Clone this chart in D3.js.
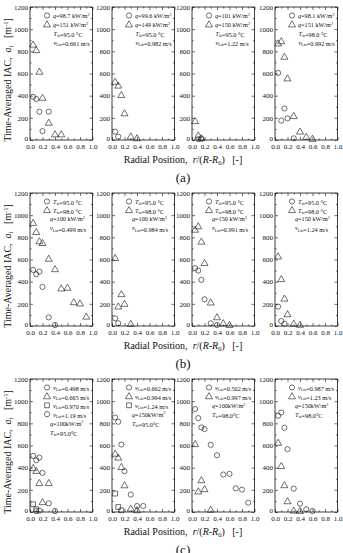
<!DOCTYPE html>
<html><head><meta charset="utf-8">
<script src="https://cdn.jsdelivr.net/npm/d3@7"></script>
<style>
body{margin:0;background:#fff}
svg{display:block}
text{font-family:"Liberation Serif","Times New Roman",serif;fill:#111}
</style>
</head><body>
<svg id="chart" width="343" height="553"></svg>
<script>
// ---------- data ----------
const radialPositions = [0.05,0.1,0.15,0.2,0.3,0.4,0.5,0.6,0.7,0.8,0.9];
const xTickValues = [0,0.2,0.4,0.6,0.8,1.0];
const xMinorValues = [0.1,0.3,0.5,0.7,0.9];
const yTickValues = [0,200,400,600,800,1000,1200];
const yMinorValues = [100,300,500,700,900,1100];
const rowLabels = ["(a)","(b)","(c)"];

// row (a)
const a1_q98_7 = [390,370,255,80,255];
const a1_q151  = [860,810,615,380,155,50,50];
const a2_q99_6 = [75,30];
const a2_q149  = [525,490,405,240,30,15];
const a3_q101  = [null,8,12];
const a3_q150  = [170,40,15];
const a4_q98_1 = [605,175,285,195,15];
const a4_q151  = [870,890,750,555,215,75,28,10];
// row (b)
const b1_T95 = [506,467,491,353,78,9];
const b1_T98 = [929,847,763,748,606,512,338,344,214,202,84];
const b2_T95 = [69,24];
const b2_T98 = [612,175,286,199,18];
const b3_T95 = [522,500,416,241,24,9];
const b3_T98 = [868,898,760,567,211,78,24,9];
const b4_T95 = [175,45,20];
const b4_T98 = [627,422,246,106,20,10];
// row (c)
const c1_v0_498 = [506,467,491,353,78,9];
const c1_v0_665 = [395,370,260,88,260];
const c1_v0_970 = [70,25];
const c1_v1_19  = [null,8,12];
const c2_v0_662 = [853,814,609,368,157,54,54];
const c2_v0_994 = [525,490,405,240,30,15];
const c2_v1_24  = [166,45,15];
const c3_v0_502 = [929,847,763,748,606,512,338,344,214,202,84];
const c3_v0_997 = [612,185,286,205,20];
const c4_v0_987 = [868,898,760,567,211,75,24,9];
const c4_v1_23  = [624,413,241,96,12,9];

// legend texts
const legendA1 = ["q=98.7 kW/m^2","q=151 kW/m^2","T_in=95.0 °C","v_Lin=0.661 m/s"];
const legendA2 = ["q=99.6 kW/m^2","q=149 kW/m^2","T_in=95.0 °C","v_Lin=0.982 m/s"];
const legendA3 = ["q=101 kW/m^2","q=150 kW/m^2","T_in=95.0 °C","v_Lin=1.22 m/s"];
const legendA4 = ["q=98.1 kW/m^2","q=151 kW/m^2","T_in=98.0 °C","v_Lin=0.992 m/s"];
const legendB1 = ["T_in=95.0 °C","T_in=98.0 °C","q=100 kW/m^2","v_Lin=0.499 m/s"];
const legendB2 = ["T_in=95.0 °C","T_in=98.0 °C","q=100 kW/m^2","v_Lin=0.984 m/s"];
const legendB3 = ["T_in=95.0 °C","T_in=98.0 °C","q=150 kW/m^2","v_Lin=0.991 m/s"];
const legendB4 = ["T_in=95.0 °C","T_in=98.0 °C","q=150 kW/m^2","v_Lin=1.24 m/s"];
const legendC1 = ["v_Lin=0.498 m/s","v_Lin=0.665 m/s","v_Lin=0.970 m/s","v_Lin=1.19 m/s","q=100kW/m^2","T_in=95.0°C"];
const legendC2 = ["v_Lin=0.662 m/s","v_Lin=0.994 m/s","v_Lin=1.24 m/s","q=150kW/m^2","T_in=95.0°C"];
const legendC3 = ["v_Lin=0.502 m/s","v_Lin=0.997 m/s","q=100kW/m^2","T_in=98.0°C"];
const legendC4 = ["v_Lin=0.987 m/s","v_Lin=1.23 m/s","q=150kW/m^2","T_in=98.0°C"];

const panels = [
  {row:0,col:0,series:[["circle",a1_q98_7],["triangle",a1_q151]],legend:legendA1},
  {row:0,col:1,series:[["circle",a2_q99_6],["triangle",a2_q149]],legend:legendA2},
  {row:0,col:2,series:[["circle",a3_q101],["triangle",a3_q150]],legend:legendA3},
  {row:0,col:3,series:[["circle",a4_q98_1],["triangle",a4_q151]],legend:legendA4},
  {row:1,col:0,series:[["circle",b1_T95],["triangle",b1_T98]],legend:legendB1},
  {row:1,col:1,series:[["circle",b2_T95],["triangle",b2_T98]],legend:legendB2},
  {row:1,col:2,series:[["circle",b3_T95],["triangle",b3_T98]],legend:legendB3},
  {row:1,col:3,series:[["circle",b4_T95],["triangle",b4_T98]],legend:legendB4},
  {row:2,col:0,series:[["circle",c1_v0_498],["triangle",c1_v0_665],["square",c1_v0_970],["hexagon",c1_v1_19]],legend:legendC1},
  {row:2,col:1,series:[["circle",c2_v0_662],["triangle",c2_v0_994],["square",c2_v1_24]],legend:legendC2},
  {row:2,col:2,series:[["circle",c3_v0_502],["triangle",c3_v0_997]],legend:legendC3},
  {row:2,col:3,series:[["circle",c4_v0_987],["triangle",c4_v1_23]],legend:legendC4}
];

// ---------- layout ----------
const colLefts = [30,112,192,275];
const rowTops = [7,193,379];
const pw = 62.5, ph = 133;
const svg = d3.select("#chart");
const INK = "#111";

function symbolPath(type){
  if(type==="circle") return d3.symbol(d3.symbolCircle, 21)();
  if(type==="triangle"){ const s=3.7; return `M0,${-s}L${s*0.95},${s*0.65}L${-s*0.95},${s*0.65}Z`; }
  if(type==="square"){ const s=2.4; return `M${-s},${-s}H${s}V${s}H${-s}Z`; }
  if(type==="hexagon"){ const r=2.8; let p=""; for(let i=0;i<6;i++){const a=Math.PI/3*i; p+=(i?"L":"M")+(r*Math.cos(a)).toFixed(2)+","+(r*Math.sin(a)).toFixed(2);} return p+"Z"; }
}

function richText(t, str){
  let m = str.match(/^([A-Za-z])(?:_([A-Za-z0-9]+))?(.*)$/);
  t.append("tspan").attr("font-style","italic").text(m[1]);
  let rest = m[3];
  if(m[2]){
    t.append("tspan").attr("font-size","0.65em").attr("dy",1.4).text(m[2]);
    t.append("tspan").attr("dy",-1.4).text("");
  }
  let sup = null;
  const k = rest.indexOf("^");
  if(k>=0){ sup = rest.slice(k+1); rest = rest.slice(0,k); }
  t.append("tspan").text(rest);
  if(sup){ t.append("tspan").attr("font-size","0.65em").attr("dy",-2.3).text(sup); }
}

panels.forEach(p=>{
  const left = colLefts[p.col], top = rowTops[p.row];
  const x = d3.scaleLinear().domain([0,1]).range([left,left+pw]);
  const y = d3.scaleLinear().domain([0,1200]).range([top+ph,top]);
  const g = svg.append("g");

  const styleAxis = sel=>{ sel.select(".domain").remove(); sel.selectAll("line").attr("stroke",INK).attr("stroke-width",0.6); sel.selectAll("text").attr("font-size",7).attr("font-family",'"Liberation Serif","Times New Roman",serif').attr("fill",INK); };

  g.append("g").attr("transform",`translate(${left},0)`).call(d3.axisLeft(y).tickValues(yTickValues).tickSize(-3).tickSizeOuter(0).tickPadding(2).tickFormat(d3.format("d"))).call(styleAxis)
    .selectAll(".tick text").attr("dy", d=> d===0 ? "0.1em" : "0.32em");
  g.append("g").attr("transform",`translate(${left},0)`).call(d3.axisLeft(y).tickValues(yMinorValues).tickSize(-1.6).tickFormat("")).call(styleAxis);
  g.append("g").attr("transform",`translate(${left+pw},0)`).call(d3.axisRight(y).tickValues(yTickValues).tickSize(-3).tickFormat("")).call(styleAxis);
  g.append("g").attr("transform",`translate(${left+pw},0)`).call(d3.axisRight(y).tickValues(yMinorValues).tickSize(-1.6).tickFormat("")).call(styleAxis);
  g.append("g").attr("transform",`translate(0,${top+ph})`).call(d3.axisBottom(x).tickValues(xTickValues).tickSize(-3).tickPadding(4).tickFormat(d3.format(".1f"))).call(styleAxis);
  g.append("g").attr("transform",`translate(0,${top+ph})`).call(d3.axisBottom(x).tickValues(xMinorValues).tickSize(-1.6).tickFormat("")).call(styleAxis);
  g.append("g").attr("transform",`translate(0,${top})`).call(d3.axisTop(x).tickValues(xTickValues).tickSize(-3).tickFormat("")).call(styleAxis);
  g.append("g").attr("transform",`translate(0,${top})`).call(d3.axisTop(x).tickValues(xMinorValues).tickSize(-1.6).tickFormat("")).call(styleAxis);

  g.append("rect").attr("x",left).attr("y",top).attr("width",pw).attr("height",ph)
    .attr("fill","none").attr("stroke",INK).attr("stroke-width",0.8);

  p.series.forEach(([sym,vals])=>{
    const pts = vals.map((v,i)=>({x:radialPositions[i],v})).filter(d=>d.v!==null);
    g.selectAll(null).data(pts).enter().append("path")
      .attr("d",symbolPath(sym))
      .attr("transform",d=>`translate(${x(d.x)},${y(d.v)})`)
      .attr("fill","none").attr("stroke",INK).attr("stroke-width",0.6);
  });

  const nSym = p.series.length;
  const lh = p.row===0 ? 9 : (p.row===1 ? 8.7 : 8.9);
  p.legend.forEach((txt,i)=>{
    const ly = top + 9 + i*lh;
    let tx;
    if(i<nSym){
      g.append("path").attr("d",symbolPath(p.series[i][0]))
        .attr("transform",`translate(${left+17},${ly-0.5})`)
        .attr("fill","none").attr("stroke",INK).attr("stroke-width",0.6);
      tx = left+23;
    } else {
      tx = p.row===0 ? left+23.5 : left+20;
    }
    const t = g.append("text").attr("x",tx).attr("y",ly+2).attr("font-size",6.2);
    richText(t,txt);
  });
});

rowTops.forEach((top,r)=>{
  const cy = top + 73;
  const yl = svg.append("text").attr("transform",`translate(11,${cy}) rotate(-90)`)
    .attr("text-anchor","middle").attr("font-size",10);
  yl.append("tspan").text("Time-Averaged IAC,\u00a0\u00a0");
  yl.append("tspan").attr("font-style","italic").text("a");
  yl.append("tspan").attr("font-size","0.65em").attr("dy",2).text("i");
  yl.append("tspan").attr("dy",-2).text("\u00a0\u00a0\u00a0[m");
  yl.append("tspan").attr("font-size","0.65em").attr("dy",-3.5).text("-1");
  yl.append("tspan").attr("dy",3.5).text("]");

  const xl = svg.append("text").attr("x",183).attr("y",top+156).attr("text-anchor","middle").attr("font-size",10);
  xl.append("tspan").text("Radial Position,\u00a0\u00a0");
  xl.append("tspan").attr("font-style","italic").text("r");
  xl.append("tspan").text("/(");
  xl.append("tspan").attr("font-style","italic").text("R");
  xl.append("tspan").text("-");
  xl.append("tspan").attr("font-style","italic").text("R");
  xl.append("tspan").attr("font-size","0.65em").attr("dy",2).text("0");
  xl.append("tspan").attr("dy",-2).text(")\u00a0\u00a0\u00a0[-]");

  svg.append("text").attr("x",183).attr("y",top+175).attr("text-anchor","middle")
    .attr("font-size",13).text(rowLabels[r]);
});
</script>
</body></html>
